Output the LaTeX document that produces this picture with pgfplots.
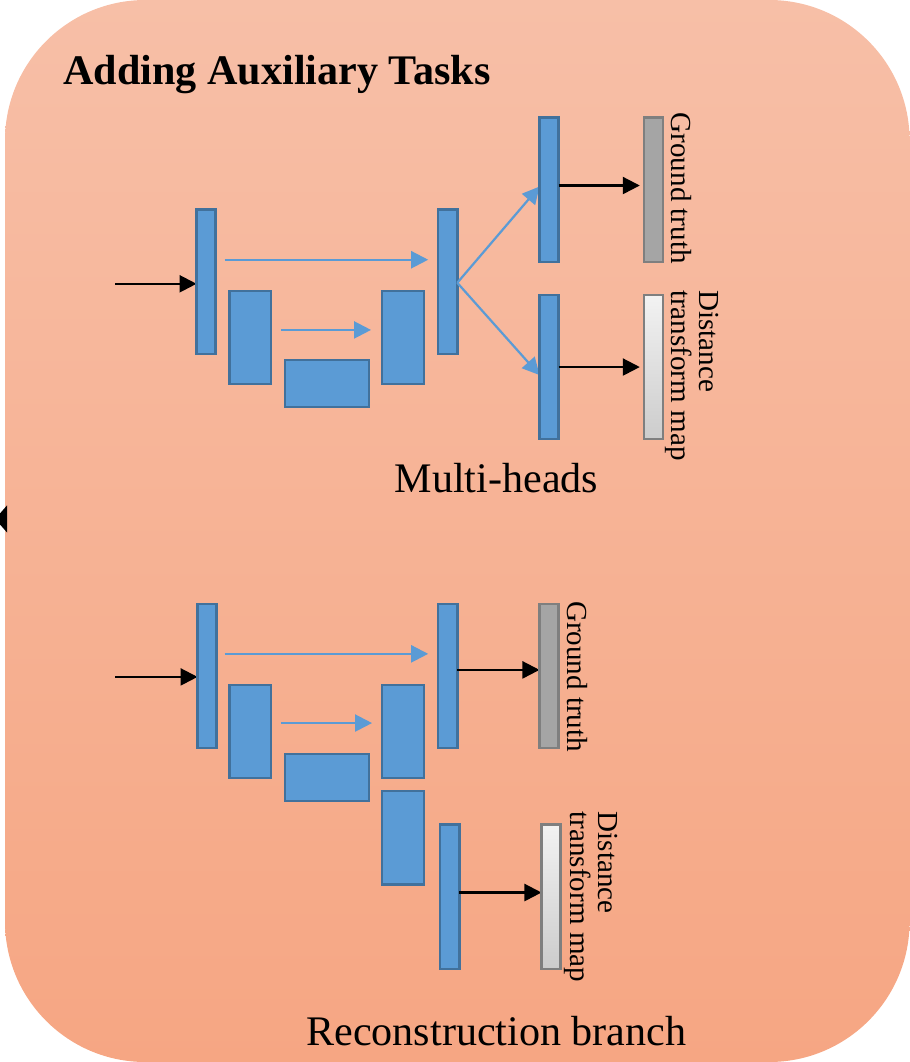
\documentclass[border=0pt]{standalone}
\usepackage{fontspec}
\setmainfont{Liberation Serif}
\usepackage{pgfplots}
\pgfplotsset{compat=1.18}
\usetikzlibrary{arrows.meta}
\definecolor{bgtop}{RGB}{247,191,167}
\definecolor{bgbot}{RGB}{246,166,131}
\definecolor{blkfill}{RGB}{91,155,213}
\definecolor{blkline}{RGB}{65,113,156}
\definecolor{gtfill}{RGB}{165,165,165}
\definecolor{barline}{RGB}{127,127,127}

% one rectangle of the network: x1,y1,x2,y2 in pixel units
\newcommand{\blk}[4]{\addplot[fill=blkfill, draw=blkline, line width=1.2pt]
  coordinates {(#1,#2) (#3,#2) (#3,#4) (#1,#4)} -- cycle;}

\begin{document}
\begin{tikzpicture}
\begin{axis}[
  scale only axis,
  width=454.5pt, height=531pt,
  xmin=0, xmax=909, ymin=0, ymax=1062,
  y dir=reverse,
  hide axis,
  clip=false,
  no markers,
  every axis plot/.append style={line join=miter},
  blue arrow/.style={draw=blkfill, line width=1.1pt, -{Triangle[length=8.5pt,width=8.5pt]}},
  black arrow/.style={draw=black, line width=1.1pt, -{Triangle[length=8.5pt,width=8.5pt]}},
]
% background panel
\addplot[draw=none, top color=bgtop, bottom color=bgbot, rounded corners=70pt]
  coordinates {(5,1) (907,1) (907,1060) (5,1060)} -- cycle;
\addplot[fill=black, draw=none] coordinates {(0,513) (7,505) (7,532) (0,524)} -- cycle;

% ---- multi-heads ----
\addplot[black arrow] coordinates {(115,284) (196,284)};
\blk{196}{210}{215}{354}
\blk{229}{291}{270}{384}
\blk{284}{360}{368}{407}
\blk{381}{291}{423}{384}
\blk{437}{210}{456}{354}
\addplot[blue arrow] coordinates {(224,260) (427,260)};
\addplot[blue arrow] coordinates {(280,330) (370,330)};
\addplot[blue arrow] coordinates {(456,283) (538,187)};
\addplot[blue arrow] coordinates {(456,283) (538,375)};
\blk{538}{118}{557}{262}
\blk{538}{295}{557}{439}
\addplot[black arrow] coordinates {(557,186) (638,186)};
\addplot[black arrow] coordinates {(557,367) (638,367)};
\addplot[fill=gtfill, draw=barline, line width=1.2pt]
  coordinates {(642,118) (661,118) (661,262) (642,262)} -- cycle;
\addplot[top color=gray!10, bottom color=gray!40, draw=barline, line width=1.2pt]
  coordinates {(642,295) (661,295) (661,439) (642,439)} -- cycle;

% ---- reconstruction branch ----
\addplot[black arrow] coordinates {(115,676) (197,676)};
\blk{197}{603}{216}{747}
\blk{229}{684}{270}{777}
\blk{284}{753}{368}{800}
\blk{381}{684}{423}{777}
\blk{381}{790}{423}{883}
\blk{437}{603}{456}{747}
\blk{439}{823}{458}{967}
\addplot[blue arrow] coordinates {(224,653) (427,653)};
\addplot[blue arrow] coordinates {(280,722) (371,722)};
\addplot[black arrow] coordinates {(456,669) (538,669)};
\addplot[black arrow] coordinates {(458,891) (540,891)};
\addplot[fill=gtfill, draw=barline, line width=1.2pt]
  coordinates {(538,603) (557,603) (557,747) (538,747)} -- cycle;
\addplot[top color=gray!10, bottom color=gray!40, draw=barline, line width=1.2pt]
  coordinates {(540,823) (559,823) (559,967) (540,967)} -- cycle;

% ---- text ----
\node[anchor=base west, inner sep=0pt, font=\fontsize{21}{25}\selectfont\bfseries]
  at (axis cs:63,85) {Adding Auxiliary Tasks};
\node[anchor=base, inner sep=0pt, font=\fontsize{21}{25}\selectfont]
  at (axis cs:495,492) {Multi-heads};
\node[anchor=base, inner sep=0pt, font=\fontsize{21}{25}\selectfont]
  at (axis cs:495,1044) {Reconstruction branch};
\tikzset{vlab/.style={anchor=base west, inner sep=0pt, rotate=-90, font=\fontsize{14.5}{17}\selectfont}}
\node[vlab] at (axis cs:670,113) {Ground truth};
\node[vlab] at (axis cs:698,290) {Distance};
\node[vlab] at (axis cs:670,290) {transform map};
\node[vlab] at (axis cs:566,600) {Ground truth};
\node[vlab] at (axis cs:597,810) {Distance};
\node[vlab] at (axis cs:569,810) {transform map};
\end{axis}
\end{tikzpicture}
\end{document}
